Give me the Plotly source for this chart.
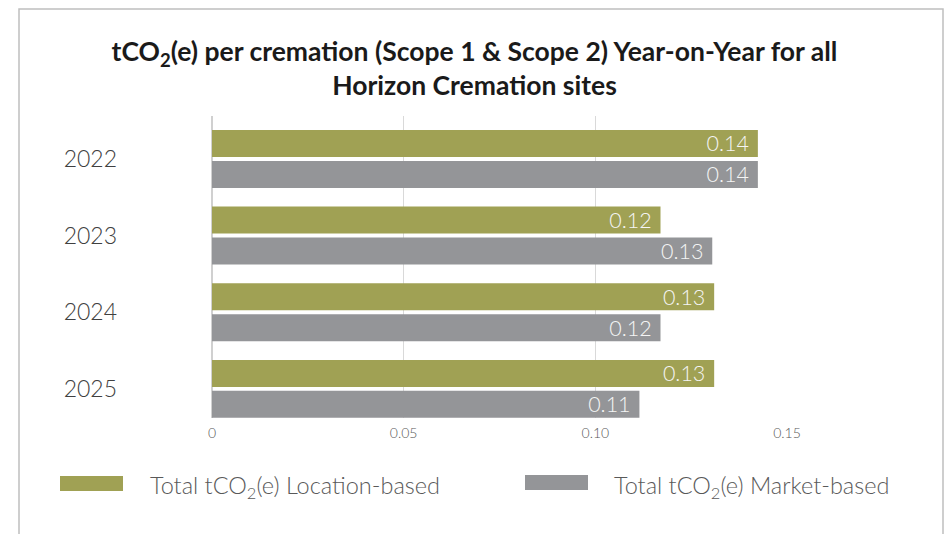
import plotly.graph_objects as go

years = ["2022", "2023", "2024", "2025"]
location_based = [0.1424, 0.1170, 0.1310, 0.1310]
market_based = [0.1424, 0.1305, 0.1170, 0.1115]
x_ticks = [0, 0.05, 0.10, 0.15]
x_tick_labels = ["0", "0.05", "0.10", "0.15"]
series_names = ["Total tCO<sub>2</sub>(e) Location-based", "Total tCO<sub>2</sub>(e) Market-based"]
title_text = "tCO<sub>2</sub>(e) per cremation (Scope 1 & Scope 2) Year-on-Year for all<br>Horizon Cremation sites"

GREEN = "#A0A154"
GREY = "#949598"
FONT = "Lato"

W, H = 949, 534
L, R, T, B = 212, 162, 116, 116
pw, ph = W - L - R, H - T - B

def px(x):
    return (x - L) / pw

def py(y):
    return (H - B - y) / ph

fig = go.Figure()
for name, vals, col in [(series_names[0], location_based, GREEN), (series_names[1], market_based, GREY)]:
    fig.add_trace(go.Bar(
        y=years, x=vals, name=name, orientation="h",
        marker=dict(color=col, line=dict(width=0)),
        texttemplate="%{x:.2f} ", textposition="inside", insidetextanchor="end",
        constraintext="none",
        textfont=dict(family=FONT, size=21.5, color="#F5F5F5", weight=300),
        showlegend=False,
    ))

shapes = [
    dict(type="rect", xref="paper", yref="paper", x0=px(19), x1=px(943), y0=py(560), y1=py(9),
         line=dict(color="#BFBFBF", width=1.5), fillcolor="rgba(0,0,0,0)", layer="below"),
    dict(type="rect", xref="paper", yref="paper", x0=px(60), x1=px(123), y0=py(491), y1=py(476),
         line=dict(width=0), fillcolor=GREEN),
    dict(type="rect", xref="paper", yref="paper", x0=px(525), x1=px(588), y0=py(490), y1=py(475),
         line=dict(width=0), fillcolor=GREY),
]
annotations = [
    dict(text=series_names[0], xref="paper", yref="paper", x=px(148), y=py(487), xanchor="left",
         yanchor="middle", showarrow=False, font=dict(family=FONT, size=23.5, color="#595959", weight=300)),
    dict(text=series_names[1], xref="paper", yref="paper", x=px(612), y=py(487), xanchor="left",
         yanchor="middle", showarrow=False, font=dict(family=FONT, size=23.5, color="#595959", weight=300)),
]

fig.update_layout(
    width=W, height=H,
    margin=dict(l=L, r=R, t=T, b=B, pad=0),
    paper_bgcolor="white", plot_bgcolor="white",
    barmode="group", bargap=0.192, bargroupgap=0.129,
    title=dict(text=title_text, x=0.5, xref="container", xanchor="center", y=1 - 61 / H, yanchor="top",
               font=dict(family=FONT, size=26.5, color="#1A1A1A", weight=700)),
    xaxis=dict(range=[0, 0.15], tickvals=x_ticks, ticktext=x_tick_labels, showgrid=True,
               gridcolor="#D9D9D9", gridwidth=1, zeroline=True, zerolinecolor="#D0D0D0", zerolinewidth=1.5,
               tickfont=dict(family=FONT, size=14, color="#595959", weight=300), ticks="", showline=False,
               ticklabelstandoff=5),
    yaxis=dict(categoryorder="array", categoryarray=years, range=[3.38, -0.56], showgrid=False,
               zeroline=False, ticks="", ticklabelstandoff=94,
               tickfont=dict(family=FONT, size=23, color="#404040", weight=300)),
    shapes=shapes, annotations=annotations,
)

fig.write_html("out.html", config={"displayModeBar": False},
               post_script="document.body.style.margin='0';")
